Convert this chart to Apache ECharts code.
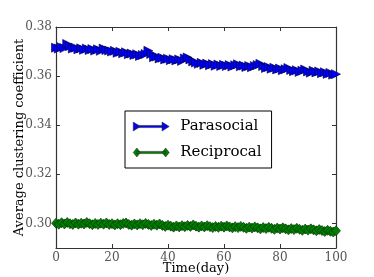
<!DOCTYPE html>
<html><head><meta charset="utf-8">
<script src="https://cdn.jsdelivr.net/npm/echarts@6/dist/echarts.min.js"></script>
<style>html,body{margin:0;padding:0;background:#fff}#c{width:374px;height:277px}</style>
</head><body><div id="c"></div>
<script>
var days = [];
for (var d = 0; d <= 100; d++) days.push(d);
var parasocial = [0.3716,0.3712,0.3718,0.3714,0.3731,0.3722,0.3712,0.3716,0.3709,0.3713,
0.3707,0.3712,0.3706,0.3710,0.3704,0.3709,0.3703,0.3712,0.3706,0.3704,
0.3700,0.3703,0.3695,0.3699,0.3693,0.3697,0.3689,0.3692,0.3686,0.3689,
0.3682,0.3686,0.3690,0.3703,0.3690,0.3677,0.3680,0.3672,0.3675,0.3668,
0.3671,0.3665,0.3669,0.3664,0.3668,0.3662,0.3672,0.3676,0.3668,0.3660,
0.3655,0.3650,0.3654,0.3646,0.3651,0.3644,0.3649,0.3642,0.3647,0.3641,
0.3646,0.3641,0.3645,0.3639,0.3644,0.3648,0.3640,0.3643,0.3637,0.3641,
0.3636,0.3641,0.3645,0.3650,0.3641,0.3633,0.3637,0.3630,0.3634,0.3627,
0.3631,0.3624,0.3628,0.3633,0.3625,0.3620,0.3624,0.3617,0.3622,0.3627,
0.3619,0.3614,0.3622,0.3615,0.3619,0.3612,0.3616,0.3609,0.3613,0.3606,0.3608];
var reciprocal = [0.3001,0.2997,0.3003,0.2998,0.3004,0.2999,0.2996,0.3002,0.2997,0.3001,
0.2998,0.3004,0.2999,0.2995,0.3000,0.2996,0.3001,0.2997,0.3002,0.2996,
0.2999,0.2994,0.2999,0.2995,0.3000,0.3002,0.2996,0.2993,0.2998,0.2994,
0.2999,0.2995,0.3000,0.2996,0.2992,0.2997,0.2993,0.2998,0.2992,0.2988,
0.2993,0.2989,0.2985,0.2990,0.2986,0.2991,0.2987,0.2992,0.2988,0.2994,
0.2989,0.2985,0.2990,0.2986,0.2991,0.2987,0.2983,0.2988,0.2984,0.2989,
0.2985,0.2990,0.2986,0.2982,0.2987,0.2983,0.2988,0.2984,0.2980,0.2985,
0.2981,0.2986,0.2982,0.2978,0.2983,0.2979,0.2984,0.2980,0.2976,0.2981,
0.2977,0.2982,0.2978,0.2974,0.2979,0.2975,0.2980,0.2976,0.2972,0.2977,
0.2973,0.2978,0.2974,0.2970,0.2975,0.2971,0.2967,0.2972,0.2968,0.2965,0.2970];
var xTicks = [0, 20, 40, 60, 80, 100];
var yTicks = [0.30, 0.32, 0.34, 0.36, 0.38];
var seriesNames = ['Parasocial', 'Reciprocal'];

function pairs(vals){ return days.map(function(d,i){ return [d, vals[i]]; }); }
var serif = 'DejaVu Serif';
var chart = echarts.init(document.getElementById('c'), null, {renderer:'canvas'});
var tickStyle = {show:true, inside:true, length:4, lineStyle:{color:'#333', width:1}};
var iconTri = 'path://M0 0 L8 5 L0 10 Z M4 3.8 L34 3.8 L34 6.2 L4 6.2 Z M32 0 L40 5 L32 10 Z';
var iconDia = 'path://M0 5 L4 0 L8 5 L4 10 Z M4 3.8 L36 3.8 L36 6.2 L4 6.2 Z M32 5 L36 0 L40 5 L36 10 Z';
chart.setOption({
  animation:false,
  backgroundColor:'#fff',
  grid:{left:56, right:38, top:27, bottom:29, show:false, containLabel:false, outerBoundsMode:'none'},
  legend:{
    left:125, top:111, orient:'vertical',
    data:[{name:seriesNames[0], icon:iconTri}, {name:seriesNames[1], icon:iconDia}],
    backgroundColor:'#fff', borderColor:'#000', borderWidth:1, borderRadius:0,
    padding:[8,10,8,8], itemGap:11, itemWidth:36, itemHeight:9,
    itemStyle:{borderWidth:0.5, borderColor:'#222'},
    textStyle:{fontFamily:serif, fontSize:15, color:'#000', padding:[0,0,0,6]}
  },
  xAxis:[{
    type:'value', min:0, max:100, position:'bottom',
    axisLine:{show:true, onZero:false, lineStyle:{color:'#333', width:1.2}},
    axisTick:Object.assign({customValues:xTicks}, tickStyle),
    axisLabel:{customValues:xTicks, fontFamily:serif, fontSize:12, color:'#555', margin:4},
    splitLine:{show:false},
    name:'Time(day)', nameLocation:'middle', nameGap:14, nameMoveOverlap:false,
    nameTextStyle:{fontFamily:serif, fontSize:13, color:'#000', verticalAlign:'top'}
  },{
    type:'value', min:0, max:100, position:'top',
    axisLine:{show:true, onZero:false, lineStyle:{color:'#333', width:1.2}},
    axisTick:Object.assign({customValues:xTicks}, tickStyle),
    axisLabel:{show:false}, splitLine:{show:false}
  }],
  yAxis:[{
    type:'value', min:0.29, max:0.38, position:'left',
    axisLine:{show:true, onZero:false, lineStyle:{color:'#333', width:1.2}},
    axisTick:Object.assign({customValues:yTicks}, tickStyle),
    axisLabel:{customValues:yTicks, fontFamily:serif, fontSize:12, color:'#555', margin:4,
      formatter:function(v){return v.toFixed(2);}},
    splitLine:{show:false},
    name:'Average clustering coefficient', nameLocation:'middle', nameGap:36, nameRotate:90, nameMoveOverlap:false,
    nameTextStyle:{fontFamily:serif, fontSize:13, color:'#000', verticalAlign:'middle'}
  },{
    type:'value', min:0.29, max:0.38, position:'right',
    axisLine:{show:true, onZero:false, lineStyle:{color:'#333', width:1.2}},
    axisTick:Object.assign({customValues:yTicks}, tickStyle),
    axisLabel:{show:false}, splitLine:{show:false}
  }],
  series:[{
    name:seriesNames[0], type:'line', data:pairs(parasocial),
    xAxisIndex:0, yAxisIndex:0,
    symbol:'triangle', symbolSize:[9,9], symbolRotate:-90, showAllSymbol:true,
    lineStyle:{color:'#0000ff', width:2},
    itemStyle:{color:'#0000ff', borderColor:'#000033', borderWidth:0.6}
  },{
    name:seriesNames[1], type:'line', data:pairs(reciprocal),
    xAxisIndex:0, yAxisIndex:0,
    symbol:'diamond', symbolSize:[9,10], showAllSymbol:true,
    lineStyle:{color:'#008000', width:2},
    itemStyle:{color:'#008000', borderColor:'#002200', borderWidth:0.6}
  }]
});
</script></body></html>
